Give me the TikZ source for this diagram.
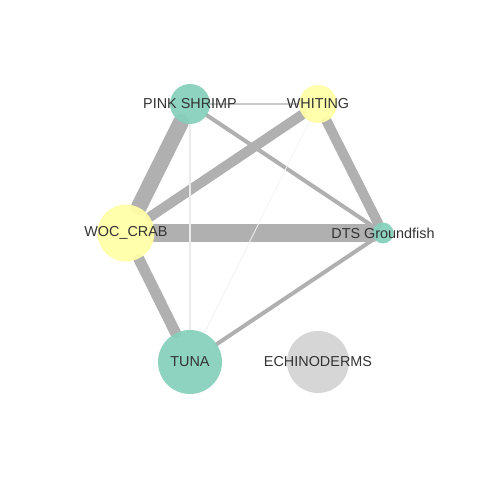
\documentclass[tikz,border=0pt]{standalone}
\usepackage{fontspec}
\setmainfont{Liberation Sans}
\usetikzlibrary{backgrounds}
\definecolor{teal3}{HTML}{85CFBB}
\definecolor{yel3}{HTML}{FFFFA6}
\definecolor{grey3}{HTML}{D3D3D3}
\definecolor{edgec}{HTML}{B0B0B0}
\definecolor{edgel}{HTML}{C8C8C8}
\definecolor{edgef}{HTML}{EBEBEB}
\definecolor{edgeff}{HTML}{F2F2F2}
\definecolor{txt}{HTML}{333333}
\tikzset{
  vert/.style={circle, inner sep=0pt, draw=none, fill opacity=0.93},
  lab/.style={text=txt, font=\fontsize{14.4}{16}\selectfont, inner sep=0pt},
  edge/.style={draw=edgec, line cap=round},
}
\begin{document}
\begin{tikzpicture}[x=1pt,y=1pt]
\useasboundingbox (0,0) rectangle (480,480);
\node[vert, fill=teal3, minimum size=40pt] (ps) at (190,376) {};
\node[vert, fill=yel3, minimum size=38pt] (wh) at (318,376) {};
\node[vert, fill=yel3, minimum size=57pt] (woc) at (126,247) {};
\node[vert, fill=teal3, minimum size=21pt] (dts) at (383,247) {};
\node[vert, fill=teal3, minimum size=64pt] (tuna) at (190,118) {};
\node[vert, fill=grey3, minimum size=62pt] (ech) at (318,118) {};
\begin{scope}[on background layer]
  \draw[edge, line width=18pt] (woc) -- (dts);
  \draw[edge, line width=16pt] (ps) -- (woc);
  \draw[edge, line width=10pt] (wh) -- (woc);
  \draw[edge, line width=10pt] (wh) -- (dts);
  \draw[edge, line width=11pt] (woc) -- (tuna);
  \draw[edge, line width=4pt] (ps) -- (dts);
  \draw[edge, line width=4pt] (tuna) -- (dts);
  \draw[edge, draw=edgel, line width=2pt] (ps) -- (wh);
  \draw[edge, draw=edgef, line width=1.3pt] (ps) -- (tuna);
  \draw[edge, draw=edgeff, line width=0.8pt] (wh) -- (tuna);
\end{scope}
\node[lab] (psl) at (ps) {PINK SHRIMP};
\node[lab] (whl) at (wh) {WHITING};
\node[lab] (wocl) at (woc) {WOC\_CRAB};
\node[lab] (dtsl) at (dts) {DTS Groundfish};
\node[lab] (tunal) at (tuna) {TUNA};
\node[lab] (echl) at (ech) {ECHINODERMS};
\end{tikzpicture}
\end{document}
